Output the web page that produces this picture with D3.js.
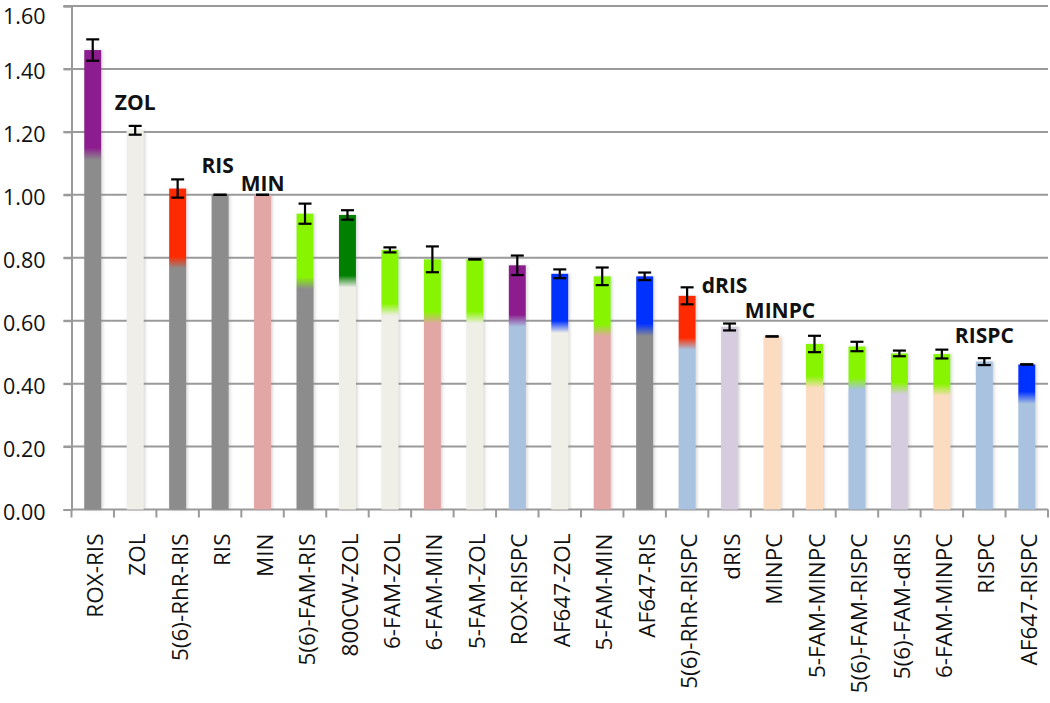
<!DOCTYPE html>
<html>
<head>
<meta charset="utf-8">
<script src="https://cdn.jsdelivr.net/npm/d3@7"></script>
<style>
  html, body { margin: 0; padding: 0; background: #fff; }
  svg { display: block; }
</style>
</head>
<body>
<svg id="chart" width="1050" height="703"></svg>
<script>
// ---- data ----
const categories = ["ROX-RIS", "ZOL", "5(6)-RhR-RIS", "RIS", "MIN", "5(6)-FAM-RIS", "800CW-ZOL",
  "6-FAM-ZOL", "6-FAM-MIN", "5-FAM-ZOL", "ROX-RISPC", "AF647-ZOL", "5-FAM-MIN", "AF647-RIS",
  "5(6)-RhR-RISPC", "dRIS", "MINPC", "5-FAM-MINPC", "5(6)-FAM-RISPC", "5(6)-FAM-dRIS",
  "6-FAM-MINPC", "RISPC", "AF647-RISPC"];
const values = [1.46, 1.205, 1.02, 1.00, 1.00, 0.94, 0.936, 0.825, 0.795, 0.795, 0.776, 0.749,
  0.741, 0.741, 0.679, 0.580, 0.550, 0.526, 0.518, 0.496, 0.494, 0.470, 0.461];
const errors = [0.034, 0.014, 0.029, 0.0, 0.0, 0.032, 0.015, 0.008, 0.041, 0.0, 0.031, 0.014,
  0.028, 0.012, 0.027, 0.011, 0.0, 0.026, 0.015, 0.009, 0.014, 0.011, 0.0];
// value at which the fluorophore colour starts (null = single colour bar)
const splitValues = [1.13, null, 0.785, null, null, 0.72, 0.725, 0.635, 0.61, 0.61, 0.60, 0.58,
  0.57, 0.57, 0.527, null, null, 0.405, 0.40, 0.385, 0.38, null, 0.355];
const parents = ["RIS", "ZOL", "RIS", "RIS", "MIN", "RIS", "ZOL", "ZOL", "MIN", "ZOL", "RISPC", "ZOL",
  "MIN", "RIS", "RISPC", "dRIS", "MINPC", "MINPC", "RISPC", "dRIS", "MINPC", "RISPC", "RISPC"];
const fluors = ["ROX", null, "RhR", null, null, "FAM", "800CW", "FAM", "FAM", "FAM", "ROX", "AF647",
  "FAM", "AF647", "RhR", null, null, "FAM", "FAM", "FAM", "FAM", null, "AF647"];
const yTicks = [0, 0.2, 0.4, 0.6, 0.8, 1.0, 1.2, 1.4, 1.6];
const annotationTexts = ["ZOL", "RIS", "MIN", "dRIS", "MINPC", "RISPC"];
const annotationCats = ["ZOL", "RIS", "MIN", "dRIS", "MINPC", "RISPC"];

// ---- styles ----
const colorOf = {
  RIS: "#8c8c8c", ZOL: "#efeee7", MIN: "#e2a6a5", RISPC: "#a8c2df", dRIS: "#d5cce0", MINPC: "#fcdcc0",
  ROX: "#8d1f8e", RhR: "#ff2a00", FAM: "#88f500", "800CW": "#007f00", AF647: "#0433ff"
};
// annotation placement: [dx from band centre, baseline y in value units]
const annotationPos = [[0, 1.27], [-2.5, 1.07], [0, 1.012], [-5, 0.687], [8, 0.607], [0, 0.528]];

const svg = d3.select("#chart");
const font = "'Open Sans', 'Noto Sans', sans-serif";
const plotLeft = 71.5, plotRight = 1048, plotTop = 6, plotBottom = 509.5;

const x = d3.scaleBand().domain(categories).range([plotLeft, plotRight]).paddingInner(0.6).paddingOuter(0.3);
const y = d3.scaleLinear().domain([0, 1.6]).range([plotBottom, plotTop]);

const defs = svg.append("defs");
const filt = defs.append("filter").attr("id", "shadow").attr("x", "-30%").attr("y", "-5%")
  .attr("width", "160%").attr("height", "110%");
filt.append("feDropShadow").attr("dx", 1.5).attr("dy", 0).attr("stdDeviation", 1.5)
  .attr("flood-color", "#888").attr("flood-opacity", 0.35);

// gridlines
svg.append("g").selectAll("line").data(yTicks.slice(1)).join("line")
  .attr("x1", plotLeft - 8).attr("x2", plotRight)
  .attr("y1", d => y(d)).attr("y2", d => y(d))
  .attr("stroke", "#9a9a9a").attr("stroke-width", 2);

// y axis
const yAxis = svg.append("g").attr("transform", `translate(${plotLeft},0)`)
  .call(d3.axisLeft(y).tickValues(yTicks).tickFormat(d3.format(".2f")).tickSize(8).tickPadding(18));
yAxis.select(".domain").attr("stroke", "#9a9a9a").attr("stroke-width", 2);
yAxis.selectAll(".tick line").attr("stroke", "#9a9a9a").attr("stroke-width", 2);
yAxis.selectAll("text").attr("font-family", font).attr("font-size", 21.5).attr("fill", "#111")
  .attr("dy", d => d === 1.6 ? "0.8em" : "0.45em");

// x axis
const xAxis = svg.append("g").attr("transform", `translate(0,${plotBottom})`)
  .call(d3.axisBottom(x).tickSize(0).tickPadding(0));
xAxis.select(".domain").attr("stroke", "#9a9a9a").attr("stroke-width", 2)
  .attr("d", `M${plotLeft},0H${plotRight}`);
const step = x.step();
const boundaries = d3.range(categories.length + 1).map(i => plotLeft + i * step);
xAxis.append("g").selectAll("line").data(boundaries).join("line")
  .attr("x1", d => d).attr("x2", d => d).attr("y1", 0).attr("y2", 8)
  .attr("stroke", "#9a9a9a").attr("stroke-width", 2);
xAxis.selectAll(".tick text")
  .attr("font-family", font).attr("font-size", 22.5).attr("fill", "#111")
  .attr("transform", "rotate(-90)")
  .attr("text-anchor", "end").attr("x", -24).attr("y", 2).attr("dy", "0.36em");

// gradients
categories.forEach((c, i) => {
  const g = defs.append("linearGradient").attr("id", "g" + i)
    .attr("gradientUnits", "userSpaceOnUse")
    .attr("x1", 0).attr("x2", 0).attr("y1", y(values[i])).attr("y2", y(0));
  const bottomCol = colorOf[parents[i]];
  if (splitValues[i] === null) {
    g.append("stop").attr("offset", 0).attr("stop-color", bottomCol);
    g.append("stop").attr("offset", 1).attr("stop-color", bottomCol);
  } else {
    const topCol = colorOf[fluors[i]];
    const h = y(0) - y(values[i]);
    const s = (y(splitValues[i]) - y(values[i])) / h;
    const d = 6 / h;
    g.append("stop").attr("offset", 0).attr("stop-color", topCol);
    g.append("stop").attr("offset", Math.max(0, s - d)).attr("stop-color", topCol);
    g.append("stop").attr("offset", Math.min(1, s + d)).attr("stop-color", bottomCol);
    g.append("stop").attr("offset", 1).attr("stop-color", bottomCol);
  }
});

// bars
svg.append("g").selectAll("rect").data(categories).join("rect")
  .attr("x", d => x(d)).attr("width", x.bandwidth())
  .attr("y", (d, i) => y(values[i])).attr("height", (d, i) => y(0) - y(values[i]))
  .attr("fill", (d, i) => `url(#g${i})`)
  .attr("filter", "url(#shadow)");

// error bars
const eb = svg.append("g").attr("stroke", "#000").attr("stroke-width", 2.2);
categories.forEach((c, i) => {
  const cx = x(c) + x.bandwidth() / 2;
  const hi = y(values[i] + errors[i]), lo = y(values[i] - errors[i]);
  eb.append("line").attr("x1", cx).attr("x2", cx).attr("y1", hi).attr("y2", lo);
  eb.append("line").attr("x1", cx - 6.5).attr("x2", cx + 6.5).attr("y1", hi).attr("y2", hi);
  eb.append("line").attr("x1", cx - 6.5).attr("x2", cx + 6.5).attr("y1", lo).attr("y2", lo);
});

// annotations
svg.append("g").selectAll("text").data(annotationTexts).join("text")
  .attr("x", (d, i) => x(annotationCats[i]) + x.bandwidth() / 2 + annotationPos[i][0])
  .attr("y", (d, i) => y(annotationPos[i][1]))
  .attr("text-anchor", "middle")
  .attr("font-family", font).attr("font-weight", "bold").attr("font-size", 21).attr("fill", "#111")
  .text(d => d);
</script>
</body>
</html>
